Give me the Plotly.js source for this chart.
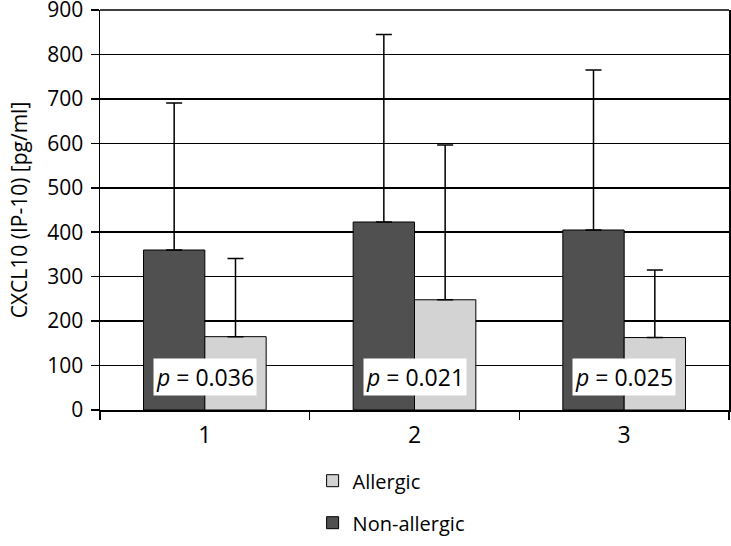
<!DOCTYPE html>
<html>
<head>
<meta charset="utf-8">
<script src="https://cdn.plot.ly/plotly-3.0.1.min.js"></script>
<style>
  html, body { margin: 0; padding: 0; background: #fff; }
  #chart { width: 731px; height: 546px; }
</style>
</head>
<body>
<div id="chart"></div>
<script>
var categories = ['1', '2', '3'];

var nonAllergic = [360, 423, 405];
var nonAllergicErr = [331, 422, 360];

var allergic = [165, 248, 163];
var allergicErr = [176, 348, 152];

var pValues = ['0.036', '0.021', '0.025'];
var pLabelY = [74, 74, 74];

var yTicks = [0, 100, 200, 300, 400, 500, 600, 700, 800, 900];

var FONT = 'Open Sans, Noto Sans, sans-serif';

var traces = [{
	name: 'Non-allergic',
	x: categories,
	y: nonAllergic,
	type: 'bar',
	legendgroup: 'b',
	legendrank: 2,
	marker: {color: '#505050', line: {color: '#000000', width: 1}},
	error_y: {type: 'data', array: nonAllergicErr, symmetric: false, arrayminus: [0, 0, 0],
		color: '#000000', thickness: 1.5, width: 8},
}, {
	name: 'Allergic',
	x: categories,
	y: allergic,
	type: 'bar',
	legendgroup: 'a',
	legendrank: 1,
	marker: {color: '#d3d3d3', line: {color: '#000000', width: 1}},
	error_y: {type: 'data', array: allergicErr, symmetric: false, arrayminus: [0, 0, 0],
		color: '#000000', thickness: 1.5, width: 8},
}];

var annotations = [];
for (var i = 0; i < categories.length; i++) {
	annotations.push({
		x: i,   // category index
		y: pLabelY[i],
		xref: 'x', yref: 'y',
		text: '<i>p</i> = ' + pValues[i],
		showarrow: false,
		bgcolor: '#ffffff',
		borderpad: 2,
		font: {family: FONT, size: 23, color: '#000000'},
	});
}

var layout = {
	width: 731, height: 546,
	margin: {l: 100, r: 2, t: 10, b: 136},
	paper_bgcolor: '#ffffff',
	plot_bgcolor: '#ffffff',
	font: {family: FONT, color: '#000000'},
	barmode: 'group',
	bargap: 0.415,
	bargroupgap: 0,
	xaxis: {
		type: 'category',
		showline: true, linecolor: '#000000', linewidth: 1.5,
		ticks: 'outside', tickson: 'boundaries', ticklen: 8, tickcolor: '#000000', tickwidth: 1.5,
		ticklabelstandoff: 4,
		tickfont: {size: 23},
		showgrid: false,
	},
	yaxis: {
		range: [0, 900],
		tickvals: yTicks,
		ticktext: yTicks.map(String),
		ticklabeloverflow: 'allow',
		ticklabelstandoff: 3,
		showline: true, linecolor: '#000000', linewidth: 1.5, mirror: true,
		ticks: 'outside', ticklen: 8, tickcolor: '#000000', tickwidth: 1.5,
		showgrid: true, gridcolor: '#000000', gridwidth: 1.5,
		zeroline: false,
		tickfont: {size: 21},
		title: {text: 'CXCL10 (IP-10) [pg/ml]', font: {size: 21}, standoff: 14},
	},
	shapes: [{
		type: 'line', xref: 'paper', yref: 'paper',
		x0: 0, x1: 1, y0: 1, y1: 1,
		line: {color: '#000000', width: 1.5},
	}],
	showlegend: true,
	legend: {
		x: 0.338, xanchor: 'left',
		y: -0.128, yanchor: 'top',
		traceorder: 'grouped',
		tracegroupgap: 13,
		font: {size: 20},
		bgcolor: 'rgba(0,0,0,0)',
	},
	annotations: annotations,
};

Plotly.newPlot('chart', traces, layout, {displayModeBar: false, staticPlot: true});
</script>
</body>
</html>
